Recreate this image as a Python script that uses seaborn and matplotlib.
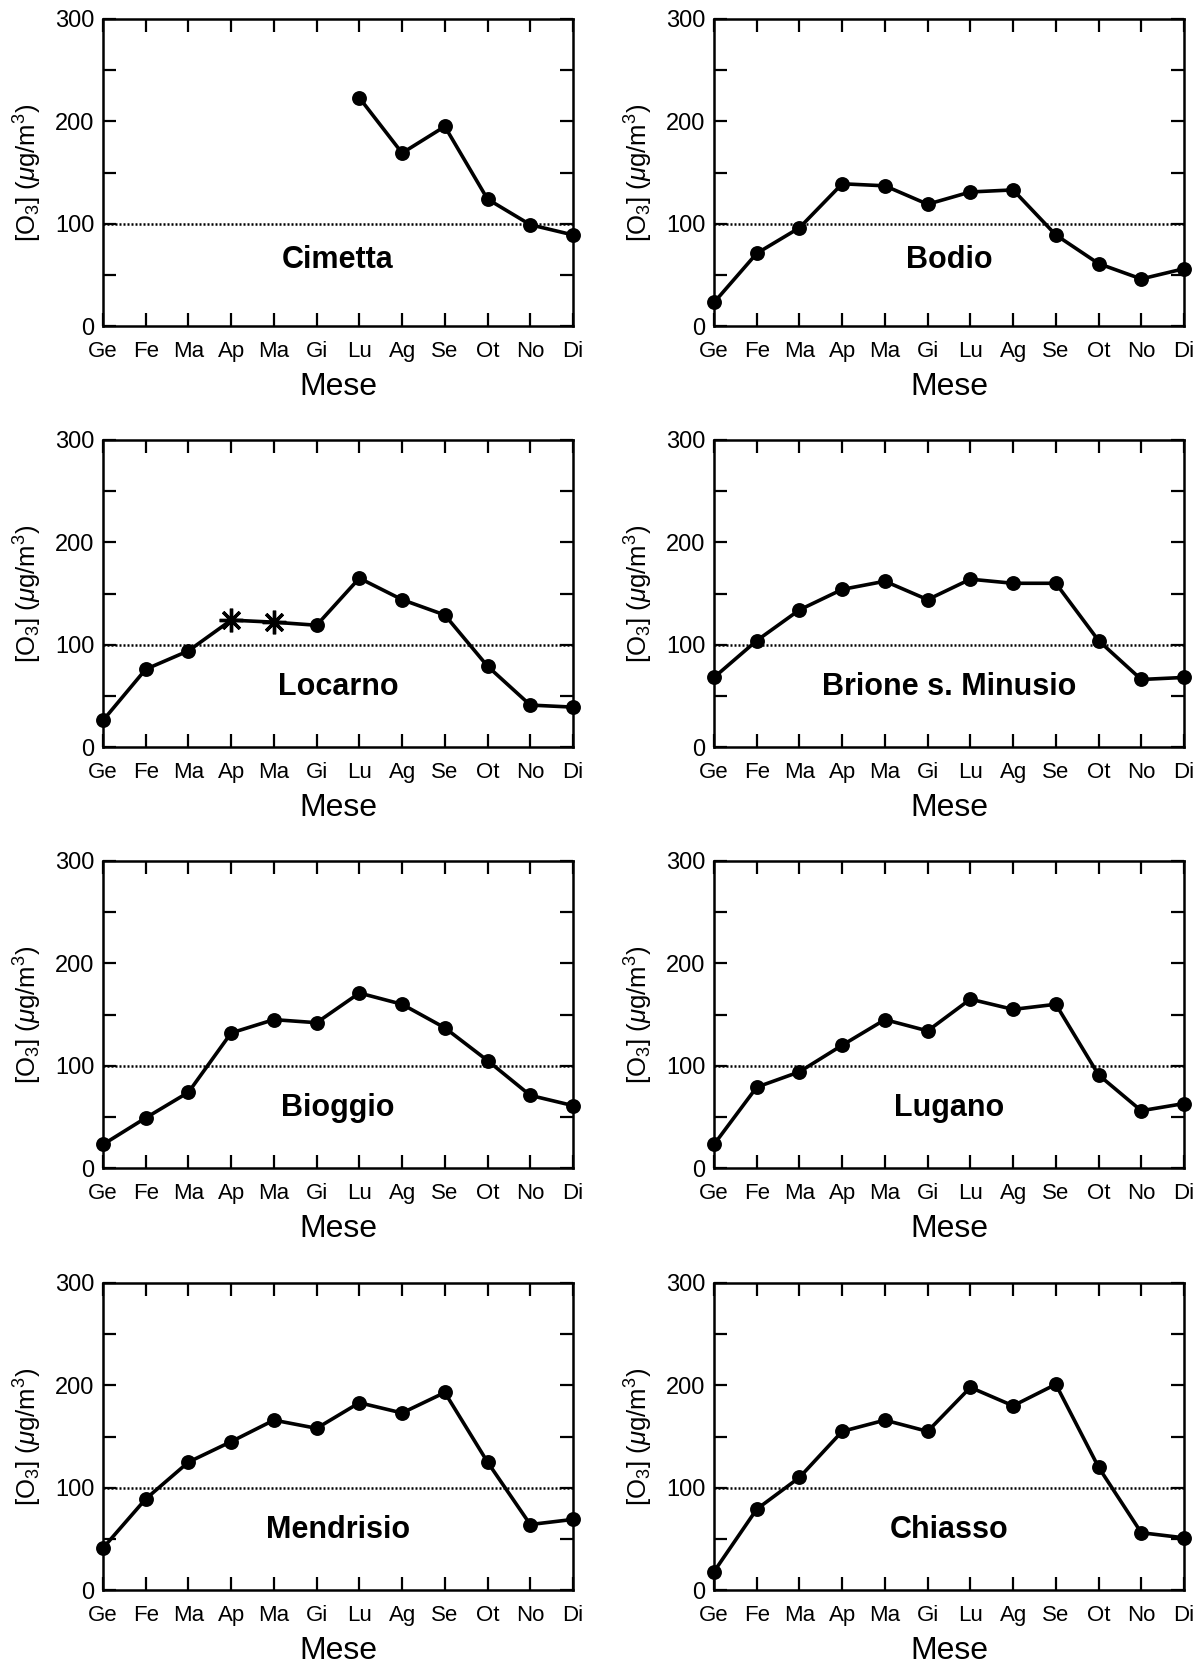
import numpy as np
import pandas as pd
import matplotlib
matplotlib.use("Agg")
import matplotlib.pyplot as plt
from matplotlib.ticker import MultipleLocator
import seaborn as sns

# Monthly ozone averages [O3] (ug/m3) for the Ticino stations
months = ["Ge", "Fe", "Ma", "Ap", "Ma", "Gi", "Lu", "Ag", "Se", "Ot", "No", "Di"]

cimetta = [np.nan, np.nan, np.nan, np.nan, np.nan, np.nan, 223, 169, 195, 124, 99, 89]
bodio = [23, 71, 96, 139, 137, 119, 131, 133, 89, 61, 46, 56]
locarno = [26, 76, 94, 124, 122, 119, 165, 144, 129, 79, 41, 39]
brione = [68, 104, 134, 154, 162, 144, 164, 160, 160, 104, 66, 68]
bioggio = [23, 49, 74, 132, 145, 142, 171, 160, 137, 105, 71, 61]
lugano = [23, 79, 94, 120, 145, 134, 165, 155, 160, 91, 56, 63]
mendrisio = [41, 89, 125, 145, 166, 158, 183, 173, 193, 125, 64, 69]
chiasso = [18, 79, 110, 155, 166, 155, 198, 180, 201, 120, 56, 51]

# months flagged with an asterisk marker (Locarno: Ap, Ma)
locarno_flagged = [3, 4]

stations = [
    ("Cimetta", cimetta, []),
    ("Bodio", bodio, []),
    ("Locarno", locarno, locarno_flagged),
    ("Brione s. Minusio", brione, []),
    ("Bioggio", bioggio, []),
    ("Lugano", lugano, []),
    ("Mendrisio", mendrisio, []),
    ("Chiasso", chiasso, []),
]

threshold = 100

sns.set_theme(style="ticks")
plt.rcParams["font.family"] = ["Liberation Sans", "DejaVu Sans"]
plt.rcParams["mathtext.fontset"] = "custom"
plt.rcParams["mathtext.rm"] = "Liberation Sans"
plt.rcParams["mathtext.it"] = "Liberation Sans:italic"
plt.rcParams["mathtext.bf"] = "Liberation Sans:bold"

fig = plt.figure(figsize=(11.99, 16.66), dpi=100)

col_left = [0.0859, 0.5955]
row_bottom = [0.8043, 0.5516, 0.2989, 0.0456]
ax_w, ax_h = 0.392, 0.1843

for i, (name, values, flagged) in enumerate(stations):
    r, c = divmod(i, 2)
    ax = fig.add_axes([col_left[c], row_bottom[r], ax_w, ax_h])

    df = pd.DataFrame({"mese": np.arange(12), "o3": values})
    df["flag"] = df["mese"].isin(flagged)
    valid = df.dropna()

    ax.axhline(threshold, color="black", lw=1.8, ls=(0, (0.8, 0.8)), zorder=1)

    sns.lineplot(data=valid, x="mese", y="o3", ax=ax, color="black",
                 lw=2.6, sort=True, zorder=3)

    dots = valid[~valid["flag"]]
    sns.scatterplot(data=dots, x="mese", y="o3", ax=ax, color="black",
                    marker="o", s=115, edgecolor="black", linewidth=0,
                    zorder=4, legend=False)
    for coll in ax.collections:
        coll.set_clip_on(False)

    stars = valid[valid["flag"]]
    if len(stars):
        ax.plot(stars["mese"], stars["o3"], ls="none", marker=(8, 2, 0),
                ms=17, mew=2.4, color="black", zorder=5, clip_on=False)
        ax.plot(stars["mese"], stars["o3"], ls="none", marker="o",
                ms=6, color="black", zorder=5)

    ax.set_xlim(0, 11)
    ax.set_ylim(0, 300)
    ax.set_xticks(np.arange(12))
    ax.set_xticklabels(months)
    ax.yaxis.set_major_locator(MultipleLocator(100))
    ax.yaxis.set_minor_locator(MultipleLocator(50))

    ax.tick_params(axis="both", which="both", direction="in", length=9.5,
                   width=1.6, color="black", top=True, right=True)
    ax.tick_params(axis="x", labelsize=16, pad=11)
    ax.tick_params(axis="y", labelsize=17, pad=6)
    for lab in ax.get_xticklabels() + ax.get_yticklabels():
        lab.set_color("black")

    for sp in ax.spines.values():
        sp.set_linewidth(1.8)
        sp.set_color("black")
        sp.set_visible(True)

    ax.set_xlabel("Mese", fontsize=23, color="black")
    ax.set_ylabel(r"[O$_3$] ($\mu$g/m$^3$)", fontsize=18.5, color="black")
    ax.xaxis.set_label_coords(0.5, -0.15)
    ax.yaxis.set_label_coords(-0.125, 0.5)

    ypos = 0.215 if r == 0 else 0.195
    ax.text(0.5, ypos, name, transform=ax.transAxes, ha="center",
            va="center", fontsize=22, fontweight="bold", color="black",
            zorder=6)

fig.savefig("out.png", dpi=100, facecolor="white")
